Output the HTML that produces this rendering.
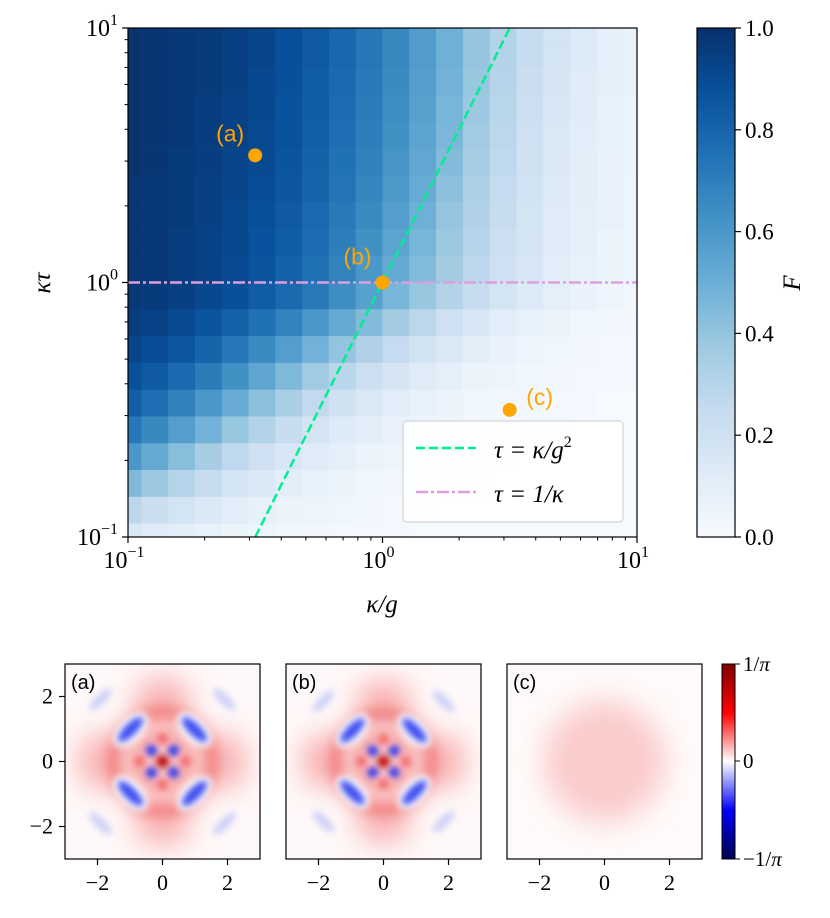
<!DOCTYPE html>
<html><head><meta charset="utf-8"><style>
html,body{margin:0;padding:0;background:#fff;}
svg text{font-family:"Liberation Serif","DejaVu Serif",serif;fill:#000;}
.sans{font-family:"Liberation Sans","DejaVu Sans",sans-serif !important;}
</style></head><body>
<svg id="fig" width="830" height="913" viewBox="0 0 830 913" xmlns="http://www.w3.org/2000/svg">
<defs>
<linearGradient id="bluesGrad" x1="0" y1="1" x2="0" y2="0">
<stop offset="0" stop-color="#f7fbff"/><stop offset="0.125" stop-color="#deebf7"/><stop offset="0.25" stop-color="#c6dbef"/><stop offset="0.375" stop-color="#9ecae1"/><stop offset="0.5" stop-color="#6baed6"/><stop offset="0.625" stop-color="#4292c6"/><stop offset="0.75" stop-color="#2171b5"/><stop offset="0.875" stop-color="#08519c"/><stop offset="1" stop-color="#08306b"/>
</linearGradient>
<linearGradient id="seisGrad" x1="0" y1="1" x2="0" y2="0">
<stop offset="0" stop-color="#00004c"/><stop offset="0.25" stop-color="#0000ff"/><stop offset="0.5" stop-color="#ffffff"/><stop offset="0.75" stop-color="#ff0000"/><stop offset="1" stop-color="#800000"/>
</linearGradient>
<filter id="bl1" x="-50%" y="-50%" width="200%" height="200%"><feGaussianBlur stdDeviation="6"/></filter>
<filter id="bl2" x="-50%" y="-50%" width="200%" height="200%"><feGaussianBlur stdDeviation="3.5"/></filter>
<filter id="bl3" x="-50%" y="-50%" width="200%" height="200%"><feGaussianBlur stdDeviation="14"/></filter>
<clipPath id="cpa"><rect x="65" y="664" width="195" height="195"/></clipPath>
<clipPath id="cpb"><rect x="286" y="664" width="195" height="195"/></clipPath>
<clipPath id="cpc"><rect x="507" y="664" width="195" height="195"/></clipPath>
<g id="wig">
 <g filter="url(#bl3)">
  <rect x="-52" y="-52" width="104" height="104" transform="rotate(45)" fill="#fac4c4"/>
  <ellipse cx="0" cy="-62" rx="28" ry="22" fill="#f8b0b0"/>
  <ellipse cx="0" cy="62" rx="28" ry="22" fill="#f8b0b0"/>
  <ellipse cx="-62" cy="0" rx="22" ry="28" fill="#f8b0b0"/>
  <ellipse cx="62" cy="0" rx="22" ry="28" fill="#f8b0b0"/>
 </g>
 <g filter="url(#bl1)">
  <circle cx="0" cy="0" r="50" fill="none" stroke="#f07878" stroke-width="10"/>
  <circle cx="0" cy="0" r="24" fill="none" stroke="#f5a0a0" stroke-width="8"/>
 </g>
 <g filter="url(#bl2)">
  <ellipse cx="-32" cy="-32" rx="22" ry="12" transform="rotate(-45 -32 -32)" fill="#ffffff"/>
  <ellipse cx="32" cy="-32" rx="22" ry="12" transform="rotate(45 32 -32)" fill="#ffffff"/>
  <ellipse cx="-32" cy="32" rx="22" ry="12" transform="rotate(45 -32 32)" fill="#ffffff"/>
  <ellipse cx="32" cy="32" rx="22" ry="12" transform="rotate(-45 32 32)" fill="#ffffff"/>
 </g>
 <g filter="url(#bl2)">
  <ellipse cx="-32" cy="-32" rx="17" ry="6" transform="rotate(-45 -32 -32)" fill="#3a4cf0"/>
  <ellipse cx="32" cy="-32" rx="17" ry="6" transform="rotate(45 32 -32)" fill="#3a4cf0"/>
  <ellipse cx="-32" cy="32" rx="17" ry="6" transform="rotate(45 -32 32)" fill="#3a4cf0"/>
  <ellipse cx="32" cy="32" rx="17" ry="6" transform="rotate(-45 32 32)" fill="#3a4cf0"/>
  <ellipse cx="-62" cy="-62" rx="15" ry="5" transform="rotate(-45 -62 -62)" fill="#ccd0f8"/>
  <ellipse cx="62" cy="-62" rx="15" ry="5" transform="rotate(45 62 -62)" fill="#ccd0f8"/>
  <ellipse cx="-62" cy="62" rx="15" ry="5" transform="rotate(45 -62 62)" fill="#ccd0f8"/>
  <ellipse cx="62" cy="62" rx="15" ry="5" transform="rotate(-45 62 62)" fill="#ccd0f8"/>
 </g>
 <g filter="url(#bl2)">
  <circle cx="-11" cy="-11" r="5.5" fill="#2233ee"/><circle cx="11" cy="-11" r="5.5" fill="#2233ee"/>
  <circle cx="-11" cy="11" r="5.5" fill="#2233ee"/><circle cx="11" cy="11" r="5.5" fill="#2233ee"/>
  <circle cx="0" cy="-23" r="5" fill="#f06060"/><circle cx="0" cy="23" r="5" fill="#f06060"/>
  <circle cx="-23" cy="0" r="5" fill="#f06060"/><circle cx="23" cy="0" r="5" fill="#f06060"/>
 </g>
 <circle cx="0" cy="0" r="6" fill="#b80000" filter="url(#bl2)"/>
</g>
</defs>

<g id="heat"></g>
<g id="overlay"></g>
<rect x="128" y="28" width="509" height="509" fill="none" stroke="#000" stroke-width="1.2"/>
<g id="mainTicks"></g>
<text x="382" y="612" font-size="25" text-anchor="middle" font-style="italic">κ/g</text>
<text x="0" y="0" font-size="25" text-anchor="middle" font-style="italic" transform="translate(50 283) rotate(-90)">κτ</text>

<g>
<rect x="403" y="421" width="220" height="101" rx="4" fill="#fff" fill-opacity="0.85" stroke="#ccc" stroke-width="1"/>
<line x1="416" y1="448" x2="476" y2="448" stroke="#00ee90" stroke-width="2.5" stroke-dasharray="9,4"/>
<text x="494" y="458" font-size="25" font-style="italic">τ = κ/g<tspan font-size="16" dy="-11" font-style="normal">2</tspan></text>
<line x1="416" y1="492" x2="476" y2="492" stroke="#dda0dd" stroke-width="2.5" stroke-dasharray="12,3,3,3"/>
<text x="494" y="502" font-size="25" font-style="italic">τ = 1/κ</text>
</g>

<rect x="697" y="28" width="38" height="509" fill="url(#bluesGrad)" stroke="#000" stroke-width="1.2"/>
<g id="cbTicks"></g>
<text x="0" y="0" font-size="25" font-style="italic" text-anchor="middle" transform="translate(800 283) rotate(-90)">F</text>

<g>
<g clip-path="url(#cpa)"><rect x="65" y="664" width="195" height="195" fill="#fff8f8"/><use href="#wig" transform="translate(162.5 761.5)"/></g>
<rect x="65" y="664" width="195" height="195" fill="none" stroke="#000" stroke-width="1.2"/>
<text class="sans" x="71" y="689" font-size="20">(a)</text>
</g>
<g>
<g clip-path="url(#cpb)"><rect x="286" y="664" width="195" height="195" fill="#fff8f8"/><use href="#wig" transform="translate(383.5 761.5) scale(0.97)"/></g>
<rect x="286" y="664" width="195" height="195" fill="none" stroke="#000" stroke-width="1.2"/>
<text class="sans" x="292" y="689" font-size="20">(b)</text>
</g>
<g>
<g clip-path="url(#cpc)"><rect x="507" y="664" width="195" height="195" fill="#fffafa"/>
<g filter="url(#bl3)"><circle cx="604.5" cy="761.5" r="62" fill="#fbd0d0"/><rect x="562" y="719" width="85" height="85" transform="rotate(45 604.5 761.5)" fill="#fbcaca"/></g></g>
<rect x="507" y="664" width="195" height="195" fill="none" stroke="#000" stroke-width="1.2"/>
<text class="sans" x="513" y="689" font-size="20">(c)</text>
</g>
<g id="wTicks"></g>
<rect x="722" y="664" width="13" height="195" fill="url(#seisGrad)" stroke="#000" stroke-width="1"/>
<g>
<line x1="735" y1="664" x2="740" y2="664" stroke="#000"/><line x1="735" y1="761" x2="740" y2="761" stroke="#000"/><line x1="735" y1="859" x2="740" y2="859" stroke="#000"/>
<text x="743" y="671" font-size="21">1/<tspan font-style="italic">π</tspan></text>
<text x="743" y="768" font-size="21">0</text>
<text x="743" y="866" font-size="21">−1/<tspan font-style="italic">π</tspan></text>
</g>
</svg>
<script>
const fidelityRows = [
[.99,.98,.97,.96,.94,.92,.88,.84,.79,.73,.66,.58,.49,.40,.31,.24,.18,.13,.09,.07],
[.99,.98,.97,.96,.94,.92,.88,.84,.79,.73,.66,.58,.49,.40,.31,.24,.18,.13,.09,.07],
[.99,.98,.97,.96,.94,.91,.88,.83,.78,.72,.65,.57,.48,.39,.30,.23,.17,.12,.09,.07],
[.99,.98,.97,.95,.93,.91,.87,.83,.77,.71,.64,.56,.47,.38,.29,.22,.16,.12,.08,.06],
[.99,.98,.97,.95,.93,.90,.87,.82,.76,.70,.63,.55,.46,.37,.28,.21,.15,.11,.08,.06],
[.99,.98,.96,.95,.92,.90,.86,.81,.75,.69,.61,.53,.44,.35,.27,.20,.14,.10,.07,.06],
[.98,.97,.96,.94,.92,.89,.85,.80,.74,.67,.59,.51,.42,.33,.25,.19,.13,.10,.07,.05],
[.98,.97,.96,.94,.91,.88,.84,.78,.72,.65,.57,.49,.40,.32,.24,.18,.12,.09,.07,.05],
[.98,.97,.95,.93,.91,.87,.83,.77,.70,.63,.55,.47,.38,.30,.22,.17,.12,.09,.06,.05],
[.98,.97,.95,.93,.90,.86,.81,.75,.68,.60,.52,.44,.36,.28,.21,.16,.11,.08,.06,.05],
[.97,.96,.94,.91,.88,.83,.78,.72,.64,.56,.47,.39,.31,.24,.18,.13,.09,.07,.05,.04],
[.95,.93,.90,.86,.81,.75,.68,.60,.52,.44,.36,.28,.21,.16,.11,.08,.06,.04,.03,.03],
[.92,.89,.85,.80,.73,.65,.57,.48,.40,.32,.25,.19,.14,.10,.07,.05,.04,.03,.02,.02],
[.88,.84,.78,.71,.63,.54,.45,.37,.29,.22,.17,.12,.09,.06,.05,.04,.03,.02,.02,.02],
[.82,.76,.69,.60,.51,.42,.34,.26,.20,.15,.11,.08,.06,.04,.03,.03,.02,.02,.01,.01],
[.73,.66,.57,.48,.39,.31,.24,.18,.13,.10,.07,.05,.04,.03,.02,.02,.02,.01,.01,.01],
[.60,.52,.43,.35,.27,.21,.16,.12,.09,.06,.05,.04,.03,.02,.02,.01,.01,.01,.01,.01],
[.45,.38,.30,.24,.18,.14,.10,.08,.06,.04,.03,.03,.02,.02,.01,.01,.01,.01,.01,.01],
[.28,.23,.18,.14,.11,.08,.06,.05,.04,.03,.02,.02,.01,.01,.01,.01,.01,.01,.01,.01],
[.15,.12,.10,.08,.06,.05,.04,.03,.02,.02,.02,.01,.01,.01,.01,.01,.01,.01,.01,.01]
];
const pointLabels = ["(a)","(b)","(c)"];
const pointX = [0.316, 1.0, 3.16];
const pointY = [3.16, 1.0, 0.316];
const logTickExps = [-1, 0, 1];
const cbTickValues = [0.0, 0.2, 0.4, 0.6, 0.8, 1.0];
const wignerTicks = [-2, 0, 2];

const NS = "http://www.w3.org/2000/svg";
const X0 = 128, Y0 = 537, SPAN = 509;
function xs(v){ return X0 + (Math.log10(v) + 1) / 2 * SPAN; }
function ys(v){ return Y0 - (Math.log10(v) + 1) / 2 * SPAN; }
function mk(tag, attrs, parent){ const e = document.createElementNS(NS, tag); for (const k in attrs) e.setAttribute(k, attrs[k]); parent.appendChild(e); return e; }
const stops = [[0,[247,251,255]],[.125,[222,235,247]],[.25,[198,219,239]],[.375,[158,202,225]],[.5,[107,174,214]],[.625,[66,146,198]],[.75,[33,113,181]],[.875,[8,81,156]],[1,[8,48,107]]];
function blues(v){ v = Math.max(0, Math.min(1, v)); for (let i=1;i<stops.length;i++){ if (v <= stops[i][0]){ const a=stops[i-1], b=stops[i]; const t=(v-a[0])/(b[0]-a[0]); const c=a[1].map((x,k)=>Math.round(x+(b[1][k]-x)*t)); return `rgb(${c[0]},${c[1]},${c[2]})`; } } return "rgb(8,48,107)"; }

const heat = document.getElementById('heat');
const nR = fidelityRows.length, nC = fidelityRows[0].length;
const step = 2 / (nC - 1);
for (let j=0;j<nR;j++){
  for (let i=0;i<nC;i++){
    const lx = -1 + i*step, ly = 1 - j*(2/(nR-1));
    let xa = xs(Math.pow(10, Math.max(-1, lx - step/2))), xb = xs(Math.pow(10, Math.min(1, lx + step/2)));
    let ya = ys(Math.pow(10, Math.min(1, ly + step/2))), yb = ys(Math.pow(10, Math.max(-1, ly - step/2)));
    const r = mk('rect', {x:xa.toFixed(2), y:ya.toFixed(2), width:(xb-xa+0.4).toFixed(2), height:(yb-ya+0.4).toFixed(2), fill:blues(fidelityRows[j][i])}, heat);
    
    
  }
}
const ov = document.getElementById('overlay');
const ln1 = mk('line', {x1:xs(Math.pow(10,-0.5)), y1:ys(0.1), x2:xs(Math.pow(10,0.5)), y2:ys(10), stroke:'#00ee90', 'stroke-width':2.5, 'stroke-dasharray':'9,4'}, ov);


const ln2 = mk('line', {x1:X0, y1:ys(1), x2:X0+SPAN, y2:ys(1), stroke:'#dda0dd', 'stroke-width':2.5, 'stroke-dasharray':'12,3,3,3'}, ov);


const lblOff = [[-25,-14],[-25,-18],[30,-5]];
for (let k=0;k<pointX.length;k++){
  const c = mk('circle', {cx:xs(pointX[k]), cy:ys(pointY[k]), r:7, fill:'#ffa500'}, ov);
  
  
  const t = mk('text', {x:xs(pointX[k])+lblOff[k][0], y:ys(pointY[k])+lblOff[k][1], 'font-size':23, 'text-anchor':'middle', class:'sans'}, ov);
  t.setAttribute('style', 'fill:#ffa500');
  t.textContent = pointLabels[k];
  
  
}
const tk = document.getElementById('mainTicks');
for (const e of logTickExps){
  const px = xs(Math.pow(10,e)), py = ys(Math.pow(10,e));
  mk('line', {x1:px, y1:Y0, x2:px, y2:Y0+6, stroke:'#000', 'stroke-width':1.2}, tk);
  mk('line', {x1:X0-6, y1:py, x2:X0, y2:py, stroke:'#000', 'stroke-width':1.2}, tk);
  const tx = mk('text', {x:px-4, y:Y0+31, 'font-size':24, 'text-anchor':'middle'}, tk);
  tx.innerHTML = '10<tspan font-size="16" dy="-11">' + (e<0?'−1':e) + '</tspan>';
  
  
  const ty = mk('text', {x:X0-10, y:py+8, 'font-size':24, 'text-anchor':'end'}, tk);
  ty.innerHTML = '10<tspan font-size="16" dy="-11">' + (e<0?'−1':e) + '</tspan>';
  
  
}
for (let d=-1; d<1; d++){
  for (let m=2;m<10;m++){
    const v = m*Math.pow(10,d);
    mk('line', {x1:xs(v), y1:Y0, x2:xs(v), y2:Y0+3.5, stroke:'#000', 'stroke-width':1}, tk);
    mk('line', {x1:X0-3.5, y1:ys(v), x2:X0, y2:ys(v), stroke:'#000', 'stroke-width':1}, tk);
  }
}
const cb = document.getElementById('cbTicks');
for (const v of cbTickValues){
  const py = 537 - v*509;
  mk('line', {x1:735, y1:py, x2:741, y2:py, stroke:'#000', 'stroke-width':1.2}, cb);
  const t = mk('text', {x:745, y:py+8, 'font-size':23}, cb);
  t.textContent = v.toFixed(1);
  
  
}
const wt = document.getElementById('wTicks');
const panelX = [65, 286, 507];
for (let p=0;p<3;p++){
  for (const v of wignerTicks){
    const px = panelX[p] + (v+3)/6*195;
    mk('line', {x1:px, y1:859, x2:px, y2:865, stroke:'#000', 'stroke-width':1.2}, wt);
    const t = mk('text', {x:px, y:890, 'font-size':22, 'text-anchor':'middle'}, wt);
    t.textContent = v<0 ? '−'+(-v) : String(v);
    
    
  }
}
for (const v of wignerTicks){
  const py = 664 + (3-v)/6*195;
  mk('line', {x1:59, y1:py, x2:65, y2:py, stroke:'#000', 'stroke-width':1.2}, wt);
  const t = mk('text', {x:53, y:py+7, 'font-size':22, 'text-anchor':'end'}, wt);
  t.textContent = v<0 ? '−'+(-v) : String(v);
  
  
}
</script>
</body></html>
